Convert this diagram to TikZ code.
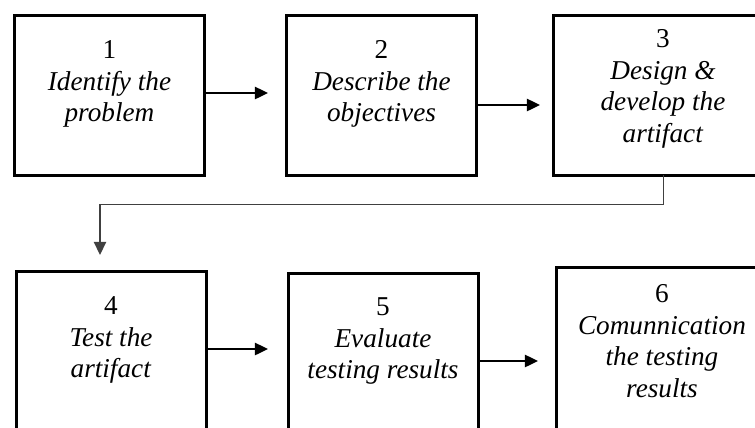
\documentclass[tikz,border=0pt]{standalone}
\usepackage{fontspec}
\setmainfont{Liberation Serif}
\usetikzlibrary{arrows.meta}

\tikzset{
  stepbox/.style={draw, line width=1.7pt, inner sep=0, outer sep=0, minimum width=3.8cm, minimum height=3.2cm},
  steptext/.style={align=center, inner sep=0, font=\fontsize{15.5}{18}\selectfont},
  flow/.style={line width=1.1pt, -{Triangle[length=7.5pt,width=7pt]}},
  link/.style={line width=0.85pt, black!75, -{Triangle[length=7.5pt,width=7pt]}}
}

\begin{document}
\begin{tikzpicture}
        [x=0.02cm, y=-0.02cm]

        \useasboundingbox (0,0) rectangle (755,427);
        \clip (0,0) rectangle (755,427);

        \node[stepbox] (b1) at (109.5, 95.5) {};
        \node[stepbox] (b2) at (381.5, 95.5) {};
        \node[stepbox, minimum width=4.41cm] (b3) at (663.75, 95.5) {};
        \node[stepbox, minimum height=3.6cm] (b4) at (111.5, 361.5) {};
        \node[stepbox, minimum height=3.6cm] (b5) at (383.5, 363.5) {};
        \node[stepbox, minimum width=4.41cm, minimum height=3.6cm] (b6) at (666.75, 357.5) {};

        \node[steptext] (t1) at (109.5, 84) {1\\\textit{Identify the}\\\textit{problem}};
        \node[steptext] (t2) at (381.5, 84) {2\\\textit{Describe the}\\\textit{objectives}};
        \node[steptext] (t3) at (663, 89) {3\\\textit{Design \&}\\\textit{develop the}\\\textit{artifact}};
        \node[steptext] (t4) at (111, 340) {4\\\textit{Test the}\\\textit{artifact}};
        \node[steptext] (t5) at (383, 341) {5\\\textit{Evaluate}\\\textit{testing results}};
        \node[steptext] (t6) at (662, 341) {6\\\textit{Comunnication}\\\textit{the testing}\\\textit{results}};

        \coordinate (c4) at (100, 255);

        \draw[flow, shorten >=0.37cm] ([yshift=0.05cm]b1.east) -- ([yshift=0.05cm]b2.west);
        \draw[flow, shorten >=0.27cm] ([yshift=-0.19cm]b2.east) -- ([yshift=-0.19cm]b3.west);
        \draw[link] (b3.south) -- ++(0, 29) -| (c4);
        \draw[flow, shorten >=0.41cm] ([yshift=0.25cm]b4.east) -- ([yshift=0.29cm]b5.west);
        \draw[flow, shorten >=0.37cm] ([yshift=0.05cm]b5.east) -- ([yshift=-0.07cm]b6.west);

      \end{tikzpicture}
\end{document}
